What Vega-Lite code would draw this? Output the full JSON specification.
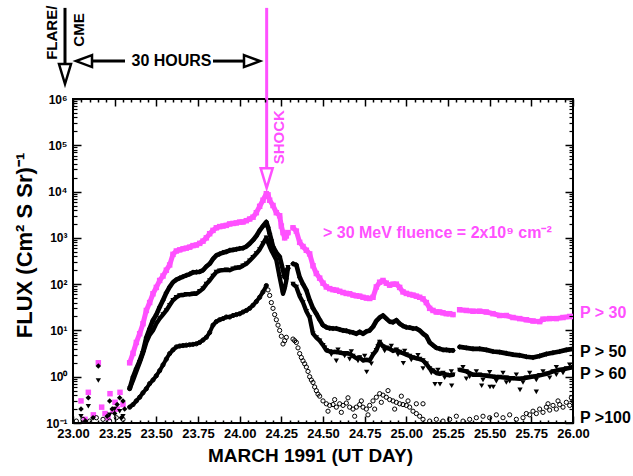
{
"$schema":"https://vega.github.io/schema/vega-lite/v6.json",
"width":500,"height":324,"autosize":"none",
"padding":{"left":73,"top":99,"right":60,"bottom":53},
"background":"white",
"config":{"view":{"stroke":"#000","strokeWidth":2},"font":"Liberation Sans",
"axis":{"grid":false,"domain":false,"zindex":1,"labelFont":"Liberation Sans","labelFontWeight":"bold","labelColor":"#000","titleFont":"Liberation Sans","titleFontWeight":"bold","titleColor":"#000"}},
"datasets":{
"pts":[
{"s":"a","d":23.048,"f":0.3,"g":0},{"s":"a","d":23.072,"f":0.12,"g":0},{"s":"a","d":23.092,"f":0.46,"g":0},{"s":"a","d":23.122,"f":0.15,"g":0},{"s":"a","d":23.152,"f":2.0,"g":0},{"s":"a","d":23.172,"f":0.22,"g":0},{"s":"a","d":23.192,"f":0.16,"g":0},{"s":"a","d":23.222,"f":0.43,"g":0},{"s":"a","d":23.252,"f":0.28,"g":0},{"s":"a","d":23.282,"f":0.46,"g":0},{"s":"a","d":23.265,"f":0.2,"g":0},{"s":"a","d":23.3,"f":0.25,"g":0},{"s":"a","d":23.24,"f":0.18,"g":0},{"s":"a","d":23.21,"f":0.13,"g":0},
{"s":"a","d":23.34,"f":2.0,"g":1},{"s":"a","d":23.36,"f":3.2,"g":1},{"s":"a","d":23.38,"f":5.5,"g":1},{"s":"a","d":23.4,"f":8.5,"g":1},{"s":"a","d":23.42,"f":14,"g":1},{"s":"a","d":23.44,"f":27,"g":1},{"s":"a","d":23.46,"f":40,"g":1},{"s":"a","d":23.48,"f":62,"g":1},{"s":"a","d":23.5,"f":85,"g":1},{"s":"a","d":23.52,"f":120,"g":1},{"s":"a","d":23.54,"f":150,"g":1},{"s":"a","d":23.56,"f":200,"g":1},{"s":"a","d":23.58,"f":260,"g":1},{"s":"a","d":23.6,"f":440,"g":1},{"s":"a","d":23.62,"f":520,"g":1},{"s":"a","d":23.64,"f":550,"g":1},{"s":"a","d":23.66,"f":580,"g":1},{"s":"a","d":23.68,"f":600,"g":1},{"s":"a","d":23.7,"f":630,"g":1},{"s":"a","d":23.72,"f":680,"g":1},{"s":"a","d":23.74,"f":700,"g":1},{"s":"a","d":23.76,"f":760,"g":1},{"s":"a","d":23.78,"f":850,"g":1},{"s":"a","d":23.8,"f":1000,"g":1},{"s":"a","d":23.82,"f":1230,"g":1},{"s":"a","d":23.84,"f":1450,"g":1},{"s":"a","d":23.86,"f":1650,"g":1},{"s":"a","d":23.88,"f":1750,"g":1},{"s":"a","d":23.9,"f":1800,"g":1},{"s":"a","d":23.92,"f":1860,"g":1},{"s":"a","d":23.94,"f":2000,"g":1},{"s":"a","d":23.96,"f":2050,"g":1},{"s":"a","d":23.98,"f":2100,"g":1},{"s":"a","d":24.0,"f":2190,"g":1},{"s":"a","d":24.02,"f":2200,"g":1},{"s":"a","d":24.04,"f":2350,"g":1},{"s":"a","d":24.06,"f":2550,"g":1},{"s":"a","d":24.08,"f":2800,"g":1},{"s":"a","d":24.1,"f":3500,"g":1},{"s":"a","d":24.12,"f":4800,"g":1},{"s":"a","d":24.14,"f":6500,"g":1},{"s":"a","d":24.16,"f":9000,"g":1},{"s":"a","d":24.17,"f":8500,"g":1},{"s":"a","d":24.18,"f":6500,"g":1},{"s":"a","d":24.2,"f":5000,"g":1},{"s":"a","d":24.22,"f":3500,"g":1},{"s":"a","d":24.24,"f":3000,"g":1},{"s":"a","d":24.25,"f":1800,"g":1},{"s":"a","d":24.26,"f":1300,"g":1},{"s":"a","d":24.27,"f":1000,"g":1},{"s":"a","d":24.28,"f":1100,"g":1},{"s":"a","d":24.29,"f":1300,"g":1},
{"s":"a","d":24.32,"f":1650,"g":2},{"s":"a","d":24.34,"f":1400,"g":2},{"s":"a","d":24.36,"f":800,"g":2},{"s":"a","d":24.38,"f":650,"g":2},{"s":"a","d":24.4,"f":540,"g":2},{"s":"a","d":24.42,"f":450,"g":2},{"s":"a","d":24.44,"f":250,"g":2},{"s":"a","d":24.46,"f":170,"g":2},{"s":"a","d":24.48,"f":135,"g":2},{"s":"a","d":24.5,"f":105,"g":2},{"s":"a","d":24.52,"f":87,"g":2},{"s":"a","d":24.54,"f":80,"g":2},{"s":"a","d":24.56,"f":76,"g":2},{"s":"a","d":24.58,"f":74,"g":2},{"s":"a","d":24.6,"f":70,"g":2},{"s":"a","d":24.62,"f":66,"g":2},{"s":"a","d":24.64,"f":63,"g":2},{"s":"a","d":24.66,"f":62,"g":2},{"s":"a","d":24.68,"f":58,"g":2},{"s":"a","d":24.7,"f":56,"g":2},{"s":"a","d":24.72,"f":55,"g":2},{"s":"a","d":24.74,"f":52,"g":2},{"s":"a","d":24.76,"f":50,"g":2},{"s":"a","d":24.78,"f":49,"g":2},{"s":"a","d":24.8,"f":52,"g":2},{"s":"a","d":24.82,"f":87,"g":2},{"s":"a","d":24.84,"f":110,"g":2},{"s":"a","d":24.86,"f":120,"g":2},{"s":"a","d":24.88,"f":105,"g":2},{"s":"a","d":24.9,"f":95,"g":2},{"s":"a","d":24.92,"f":100,"g":2},{"s":"a","d":24.94,"f":100,"g":2},{"s":"a","d":24.96,"f":85,"g":2},{"s":"a","d":24.98,"f":68,"g":2},{"s":"a","d":25.0,"f":63,"g":2},{"s":"a","d":25.02,"f":60,"g":2},{"s":"a","d":25.04,"f":58,"g":2},{"s":"a","d":25.06,"f":55,"g":2},{"s":"a","d":25.08,"f":52,"g":2},{"s":"a","d":25.1,"f":48,"g":2},{"s":"a","d":25.12,"f":40,"g":2},{"s":"a","d":25.14,"f":30,"g":2},{"s":"a","d":25.16,"f":27,"g":2},{"s":"a","d":25.18,"f":25,"g":2},{"s":"a","d":25.2,"f":25,"g":2},{"s":"a","d":25.22,"f":24,"g":2},{"s":"a","d":25.24,"f":23,"g":2},{"s":"a","d":25.26,"f":23,"g":2},{"s":"a","d":25.28,"f":22,"g":2},
{"s":"a","d":25.32,"f":28,"g":3},{"s":"a","d":25.36,"f":27,"g":3},{"s":"a","d":25.4,"f":26,"g":3},{"s":"a","d":25.44,"f":26,"g":3},{"s":"a","d":25.48,"f":25,"g":3},{"s":"a","d":25.52,"f":23,"g":3},{"s":"a","d":25.56,"f":21,"g":3},{"s":"a","d":25.6,"f":21,"g":3},{"s":"a","d":25.64,"f":19,"g":3},{"s":"a","d":25.68,"f":18,"g":3},{"s":"a","d":25.72,"f":17,"g":3},{"s":"a","d":25.76,"f":16,"g":3},{"s":"a","d":25.8,"f":15.5,"g":3},{"s":"a","d":25.82,"f":17.5,"g":3},{"s":"a","d":25.86,"f":18,"g":3},{"s":"a","d":25.9,"f":18,"g":3},{"s":"a","d":25.94,"f":19,"g":3},{"s":"a","d":25.98,"f":20,"g":3},{"s":"a","d":26.0,"f":20,"g":3},
{"s":"b","d":23.048,"f":0.2,"g":0},{"s":"b","d":23.092,"f":0.35,"g":0},{"s":"b","d":23.152,"f":1.7,"g":0},{"s":"b","d":23.12,"f":0.13,"g":0},{"s":"b","d":23.22,"f":0.3,"g":0},{"s":"b","d":23.235,"f":0.2,"g":0},{"s":"b","d":23.25,"f":0.16,"g":0},{"s":"b","d":23.265,"f":0.25,"g":0},{"s":"b","d":23.28,"f":0.35,"g":0},{"s":"b","d":23.3,"f":0.3,"g":0},{"s":"b","d":23.29,"f":0.13,"g":0},{"s":"b","d":23.31,"f":0.2,"g":0},{"s":"b","d":23.205,"f":0.14,"g":0},{"s":"b","d":23.075,"f":0.11,"g":0},
{"s":"b","d":23.34,"f":0.55,"g":1},{"s":"b","d":23.36,"f":0.98,"g":1},{"s":"b","d":23.38,"f":1.5,"g":1},{"s":"b","d":23.4,"f":2.2,"g":1},{"s":"b","d":23.42,"f":3.5,"g":1},{"s":"b","d":23.44,"f":7,"g":1},{"s":"b","d":23.46,"f":11,"g":1},{"s":"b","d":23.48,"f":16.6,"g":1},{"s":"b","d":23.5,"f":22,"g":1},{"s":"b","d":23.52,"f":32,"g":1},{"s":"b","d":23.54,"f":45,"g":1},{"s":"b","d":23.56,"f":65,"g":1},{"s":"b","d":23.58,"f":87,"g":1},{"s":"b","d":23.6,"f":110,"g":1},{"s":"b","d":23.62,"f":125,"g":1},{"s":"b","d":23.64,"f":135,"g":1},{"s":"b","d":23.66,"f":145,"g":1},{"s":"b","d":23.68,"f":155,"g":1},{"s":"b","d":23.7,"f":165,"g":1},{"s":"b","d":23.72,"f":180,"g":1},{"s":"b","d":23.74,"f":182,"g":1},{"s":"b","d":23.76,"f":185,"g":1},{"s":"b","d":23.78,"f":200,"g":1},{"s":"b","d":23.8,"f":240,"g":1},{"s":"b","d":23.82,"f":275,"g":1},{"s":"b","d":23.84,"f":350,"g":1},{"s":"b","d":23.86,"f":417,"g":1},{"s":"b","d":23.88,"f":450,"g":1},{"s":"b","d":23.9,"f":480,"g":1},{"s":"b","d":23.92,"f":500,"g":1},{"s":"b","d":23.94,"f":537,"g":1},{"s":"b","d":23.96,"f":550,"g":1},{"s":"b","d":23.98,"f":570,"g":1},{"s":"b","d":24.0,"f":589,"g":1},{"s":"b","d":24.02,"f":600,"g":1},{"s":"b","d":24.04,"f":650,"g":1},{"s":"b","d":24.06,"f":750,"g":1},{"s":"b","d":24.08,"f":890,"g":1},{"s":"b","d":24.1,"f":1100,"g":1},{"s":"b","d":24.12,"f":1445,"g":1},{"s":"b","d":24.14,"f":1800,"g":1},{"s":"b","d":24.16,"f":2200,"g":1},{"s":"b","d":24.17,"f":1700,"g":1},{"s":"b","d":24.18,"f":1230,"g":1},{"s":"b","d":24.19,"f":900,"g":1},{"s":"b","d":24.2,"f":650,"g":1},{"s":"b","d":24.22,"f":480,"g":1},{"s":"b","d":24.24,"f":390,"g":1},{"s":"b","d":24.26,"f":200,"g":1},{"s":"b","d":24.27,"f":141,"g":1},{"s":"b","d":24.28,"f":190,"g":1},{"s":"b","d":24.29,"f":219,"g":1},
{"s":"b","d":24.32,"f":275,"g":2},{"s":"b","d":24.34,"f":260,"g":2},{"s":"b","d":24.36,"f":141,"g":2},{"s":"b","d":24.38,"f":100,"g":2},{"s":"b","d":24.4,"f":74,"g":2},{"s":"b","d":24.42,"f":45,"g":2},{"s":"b","d":24.44,"f":30,"g":2},{"s":"b","d":24.46,"f":23,"g":2},{"s":"b","d":24.48,"f":17,"g":2},{"s":"b","d":24.5,"f":13,"g":2},{"s":"b","d":24.52,"f":11.7,"g":2},{"s":"b","d":24.54,"f":11.2,"g":2},{"s":"b","d":24.56,"f":11,"g":2},{"s":"b","d":24.58,"f":11,"g":2},{"s":"b","d":24.6,"f":10.5,"g":2},{"s":"b","d":24.62,"f":10,"g":2},{"s":"b","d":24.64,"f":9.8,"g":2},{"s":"b","d":24.66,"f":9.3,"g":2},{"s":"b","d":24.68,"f":9,"g":2},{"s":"b","d":24.7,"f":8.5,"g":2},{"s":"b","d":24.72,"f":9.3,"g":2},{"s":"b","d":24.74,"f":8.5,"g":2},{"s":"b","d":24.76,"f":9.5,"g":2},{"s":"b","d":24.78,"f":10,"g":2},{"s":"b","d":24.8,"f":12,"g":2},{"s":"b","d":24.82,"f":16,"g":2},{"s":"b","d":24.84,"f":19,"g":2},{"s":"b","d":24.86,"f":21,"g":2},{"s":"b","d":24.88,"f":18,"g":2},{"s":"b","d":24.9,"f":15.5,"g":2},{"s":"b","d":24.92,"f":15,"g":2},{"s":"b","d":24.94,"f":16.6,"g":2},{"s":"b","d":24.96,"f":14,"g":2},{"s":"b","d":24.98,"f":12.5,"g":2},{"s":"b","d":25.0,"f":11.7,"g":2},{"s":"b","d":25.02,"f":11.5,"g":2},{"s":"b","d":25.04,"f":11,"g":2},{"s":"b","d":25.06,"f":11,"g":2},{"s":"b","d":25.08,"f":10,"g":2},{"s":"b","d":25.1,"f":8.5,"g":2},{"s":"b","d":25.12,"f":7.5,"g":2},{"s":"b","d":25.14,"f":5.5,"g":2},{"s":"b","d":25.16,"f":4.8,"g":2},{"s":"b","d":25.18,"f":4.2,"g":2},{"s":"b","d":25.2,"f":4,"g":2},{"s":"b","d":25.22,"f":3.8,"g":2},{"s":"b","d":25.24,"f":3.8,"g":2},{"s":"b","d":25.26,"f":3.7,"g":2},{"s":"b","d":25.28,"f":3.7,"g":2},
{"s":"b","d":25.32,"f":4.4,"g":3},{"s":"b","d":25.36,"f":4.2,"g":3},{"s":"b","d":25.4,"f":4.0,"g":3},{"s":"b","d":25.44,"f":4.0,"g":3},{"s":"b","d":25.48,"f":3.8,"g":3},{"s":"b","d":25.52,"f":3.5,"g":3},{"s":"b","d":25.56,"f":3.4,"g":3},{"s":"b","d":25.6,"f":3.2,"g":3},{"s":"b","d":25.64,"f":3.0,"g":3},{"s":"b","d":25.68,"f":2.9,"g":3},{"s":"b","d":25.72,"f":2.7,"g":3},{"s":"b","d":25.76,"f":2.6,"g":3},{"s":"b","d":25.8,"f":2.8,"g":3},{"s":"b","d":25.84,"f":3.1,"g":3},{"s":"b","d":25.88,"f":3.3,"g":3},{"s":"b","d":25.92,"f":3.5,"g":3},{"s":"b","d":25.96,"f":3.8,"g":3},{"s":"b","d":26.0,"f":4.0,"g":3},
{"s":"c","d":23.152,"f":0.83,"g":0},{"s":"c","d":23.092,"f":0.23,"g":0},{"s":"c","d":23.048,"f":0.14,"g":0},{"s":"c","d":23.22,"f":0.15,"g":0},{"s":"c","d":23.25,"f":0.2,"g":0},{"s":"c","d":23.28,"f":0.18,"g":0},{"s":"c","d":23.3,"f":0.14,"g":0},
{"s":"c","d":24.762,"f":1.26,"g":0},{"s":"c","d":24.982,"f":1.95,"g":0},{"s":"c","d":25.172,"f":0.69,"g":0},{"s":"c","d":25.202,"f":0.69,"g":0},{"s":"c","d":25.272,"f":0.64,"g":0},{"s":"c","d":25.452,"f":0.64,"g":0},{"s":"c","d":25.502,"f":0.6,"g":0},{"s":"c","d":25.522,"f":0.6,"g":0},{"s":"c","d":25.682,"f":0.52,"g":0},{"s":"c","d":25.78,"f":0.47,"g":0},{"s":"c","d":24.58,"f":2.2,"g":0},{"s":"c","d":24.66,"f":2.4,"g":0},{"s":"c","d":25.1,"f":1.5,"g":0},{"s":"c","d":25.36,"f":0.9,"g":0},{"s":"c","d":25.6,"f":0.75,"g":0},{"s":"c","d":25.9,"f":1.1,"g":0},
{"s":"c","d":25.34,"f":1.6,"g":0},{"s":"c","d":25.38,"f":1.0,"g":0},{"s":"c","d":25.42,"f":1.3,"g":0},{"s":"c","d":25.46,"f":0.85,"g":0},{"s":"c","d":25.5,"f":1.25,"g":0},{"s":"c","d":25.54,"f":0.8,"g":0},{"s":"c","d":25.58,"f":1.2,"g":0},{"s":"c","d":25.62,"f":0.8,"g":0},{"s":"c","d":25.66,"f":1.1,"g":0},{"s":"c","d":25.7,"f":0.75,"g":0},{"s":"c","d":25.74,"f":1.2,"g":0},{"s":"c","d":25.78,"f":0.85,"g":0},{"s":"c","d":25.82,"f":1.3,"g":0},{"s":"c","d":25.86,"f":0.95,"g":0},{"s":"c","d":25.9,"f":1.6,"g":0},{"s":"c","d":25.94,"f":1.2,"g":0},{"s":"c","d":25.98,"f":1.8,"g":0},
{"s":"c","d":24.51,"f":4.2,"g":0},{"s":"c","d":24.55,"f":3.0,"g":0},{"s":"c","d":24.59,"f":3.8,"g":0},{"s":"c","d":24.63,"f":2.8,"g":0},{"s":"c","d":24.67,"f":3.5,"g":0},{"s":"c","d":24.71,"f":2.2,"g":0},{"s":"c","d":24.75,"f":2.8,"g":0},{"s":"c","d":24.79,"f":1.9,"g":0},{"s":"c","d":24.83,"f":4.5,"g":0},{"s":"c","d":24.87,"f":3.6,"g":0},{"s":"c","d":24.91,"f":4.6,"g":0},{"s":"c","d":24.95,"f":3.0,"g":0},{"s":"c","d":24.99,"f":3.6,"g":0},{"s":"c","d":25.03,"f":2.3,"g":0},{"s":"c","d":25.07,"f":2.9,"g":0},{"s":"c","d":25.11,"f":1.9,"g":0},{"s":"c","d":25.15,"f":1.2,"g":0},{"s":"c","d":25.19,"f":1.4,"g":0},{"s":"c","d":25.23,"f":0.95,"g":0},{"s":"c","d":25.27,"f":1.3,"g":0},
{"s":"c","d":23.34,"f":0.55,"g":1},{"s":"c","d":23.36,"f":0.83,"g":1},{"s":"c","d":23.38,"f":1.3,"g":1},{"s":"c","d":23.4,"f":2.0,"g":1},{"s":"c","d":23.42,"f":3.2,"g":1},{"s":"c","d":23.44,"f":5.5,"g":1},{"s":"c","d":23.46,"f":8,"g":1},{"s":"c","d":23.48,"f":10,"g":1},{"s":"c","d":23.5,"f":14,"g":1},{"s":"c","d":23.52,"f":18,"g":1},{"s":"c","d":23.54,"f":22,"g":1},{"s":"c","d":23.56,"f":27,"g":1},{"s":"c","d":23.58,"f":35,"g":1},{"s":"c","d":23.6,"f":44.7,"g":1},{"s":"c","d":23.62,"f":52,"g":1},{"s":"c","d":23.64,"f":57,"g":1},{"s":"c","d":23.66,"f":58,"g":1},{"s":"c","d":23.68,"f":60,"g":1},{"s":"c","d":23.7,"f":60,"g":1},{"s":"c","d":23.72,"f":62,"g":1},{"s":"c","d":23.74,"f":62,"g":1},{"s":"c","d":23.76,"f":70,"g":1},{"s":"c","d":23.78,"f":80,"g":1},{"s":"c","d":23.8,"f":100,"g":1},{"s":"c","d":23.82,"f":120,"g":1},{"s":"c","d":23.84,"f":150,"g":1},{"s":"c","d":23.86,"f":182,"g":1},{"s":"c","d":23.88,"f":195,"g":1},{"s":"c","d":23.9,"f":200,"g":1},{"s":"c","d":23.92,"f":204,"g":1},{"s":"c","d":23.94,"f":200,"g":1},{"s":"c","d":23.96,"f":215,"g":1},{"s":"c","d":23.98,"f":225,"g":1},{"s":"c","d":24.0,"f":229,"g":1},{"s":"c","d":24.02,"f":250,"g":1},{"s":"c","d":24.04,"f":275,"g":1},{"s":"c","d":24.06,"f":320,"g":1},{"s":"c","d":24.08,"f":380,"g":1},{"s":"c","d":24.1,"f":457,"g":1},{"s":"c","d":24.12,"f":560,"g":1},{"s":"c","d":24.14,"f":750,"g":1},{"s":"c","d":24.16,"f":1000,"g":1},{"s":"c","d":24.17,"f":800,"g":1},{"s":"c","d":24.18,"f":650,"g":1},{"s":"c","d":24.19,"f":537,"g":1},{"s":"c","d":24.2,"f":460,"g":1},{"s":"c","d":24.22,"f":331,"g":1},{"s":"c","d":24.24,"f":141,"g":1},{"s":"c","d":24.26,"f":62,"g":1},{"s":"c","d":24.27,"f":80,"g":1},{"s":"c","d":24.28,"f":120,"g":1},{"s":"c","d":24.29,"f":230,"g":1},
{"s":"c","d":24.32,"f":100,"g":2},{"s":"c","d":24.34,"f":87,"g":2},{"s":"c","d":24.36,"f":55,"g":2},{"s":"c","d":24.38,"f":40,"g":2},{"s":"c","d":24.4,"f":26,"g":2},{"s":"c","d":24.42,"f":19,"g":2},{"s":"c","d":24.44,"f":8.5,"g":2},{"s":"c","d":24.46,"f":7,"g":2},{"s":"c","d":24.48,"f":6,"g":2},{"s":"c","d":24.5,"f":4.8,"g":2},{"s":"c","d":24.52,"f":3.7,"g":2},{"s":"c","d":24.54,"f":3.5,"g":2},{"s":"c","d":24.56,"f":3.4,"g":2},{"s":"c","d":24.58,"f":3.4,"g":2},{"s":"c","d":24.6,"f":3.3,"g":2},{"s":"c","d":24.62,"f":3.2,"g":2},{"s":"c","d":24.64,"f":3.2,"g":2},{"s":"c","d":24.66,"f":3.1,"g":2},{"s":"c","d":24.68,"f":2.8,"g":2},{"s":"c","d":24.7,"f":2.5,"g":2},{"s":"c","d":24.72,"f":2.6,"g":2},{"s":"c","d":24.74,"f":2.24,"g":2},{"s":"c","d":24.76,"f":2.3,"g":2},{"s":"c","d":24.78,"f":2.24,"g":2},{"s":"c","d":24.8,"f":3.0,"g":2},{"s":"c","d":24.82,"f":3.7,"g":2},{"s":"c","d":24.84,"f":5.6,"g":2},{"s":"c","d":24.86,"f":4.5,"g":2},{"s":"c","d":24.88,"f":4.2,"g":2},{"s":"c","d":24.9,"f":4.0,"g":2},{"s":"c","d":24.92,"f":3.6,"g":2},{"s":"c","d":24.94,"f":3.8,"g":2},{"s":"c","d":24.96,"f":3.4,"g":2},{"s":"c","d":24.98,"f":3.2,"g":2},{"s":"c","d":25.0,"f":3.0,"g":2},{"s":"c","d":25.02,"f":2.8,"g":2},{"s":"c","d":25.04,"f":2.6,"g":2},{"s":"c","d":25.06,"f":2.5,"g":2},{"s":"c","d":25.08,"f":2.4,"g":2},{"s":"c","d":25.1,"f":2.24,"g":2},{"s":"c","d":25.12,"f":1.9,"g":2},{"s":"c","d":25.14,"f":1.5,"g":2},{"s":"c","d":25.16,"f":1.35,"g":2},{"s":"c","d":25.18,"f":1.2,"g":2},{"s":"c","d":25.2,"f":1.15,"g":2},{"s":"c","d":25.22,"f":1.2,"g":2},{"s":"c","d":25.24,"f":1.1,"g":2},{"s":"c","d":25.26,"f":1.07,"g":2},{"s":"c","d":25.28,"f":1.1,"g":2},
{"s":"c","d":25.32,"f":1.4,"g":3},{"s":"c","d":25.36,"f":1.3,"g":3},{"s":"c","d":25.4,"f":1.1,"g":3},{"s":"c","d":25.44,"f":1.1,"g":3},{"s":"c","d":25.48,"f":1.05,"g":3},{"s":"c","d":25.52,"f":1.0,"g":3},{"s":"c","d":25.56,"f":0.98,"g":3},{"s":"c","d":25.6,"f":0.95,"g":3},{"s":"c","d":25.64,"f":0.92,"g":3},{"s":"c","d":25.68,"f":0.9,"g":3},{"s":"c","d":25.72,"f":0.95,"g":3},{"s":"c","d":25.76,"f":1.0,"g":3},{"s":"c","d":25.8,"f":1.07,"g":3},{"s":"c","d":25.84,"f":1.15,"g":3},{"s":"c","d":25.88,"f":1.3,"g":3},{"s":"c","d":25.92,"f":1.4,"g":3},{"s":"c","d":25.96,"f":1.5,"g":3},{"s":"c","d":26.0,"f":1.6,"g":3},
{"s":"e","d":23.02,"f":0.11,"g":0},{"s":"e","d":23.06,"f":0.12,"g":0},{"s":"e","d":23.1,"f":0.11,"g":0},{"s":"e","d":23.14,"f":0.13,"g":0},{"s":"e","d":23.18,"f":0.12,"g":0},{"s":"e","d":23.22,"f":0.11,"g":0},{"s":"e","d":23.26,"f":0.13,"g":0},{"s":"e","d":23.3,"f":0.12,"g":0},
{"s":"e","d":23.34,"f":0.22,"g":1},{"s":"e","d":23.36,"f":0.25,"g":1},{"s":"e","d":23.38,"f":0.3,"g":1},{"s":"e","d":23.4,"f":0.36,"g":1},{"s":"e","d":23.42,"f":0.45,"g":1},{"s":"e","d":23.44,"f":0.55,"g":1},{"s":"e","d":23.46,"f":0.71,"g":1},{"s":"e","d":23.48,"f":0.85,"g":1},{"s":"e","d":23.5,"f":1.05,"g":1},{"s":"e","d":23.52,"f":1.35,"g":1},{"s":"e","d":23.54,"f":1.8,"g":1},{"s":"e","d":23.56,"f":2.4,"g":1},{"s":"e","d":23.58,"f":3.16,"g":1},{"s":"e","d":23.6,"f":3.8,"g":1},{"s":"e","d":23.62,"f":4.4,"g":1},{"s":"e","d":23.64,"f":4.6,"g":1},{"s":"e","d":23.66,"f":4.7,"g":1},{"s":"e","d":23.68,"f":4.8,"g":1},{"s":"e","d":23.7,"f":4.9,"g":1},{"s":"e","d":23.72,"f":5.0,"g":1},{"s":"e","d":23.74,"f":5.13,"g":1},{"s":"e","d":23.76,"f":5.5,"g":1},{"s":"e","d":23.78,"f":6.2,"g":1},{"s":"e","d":23.8,"f":7.1,"g":1},{"s":"e","d":23.82,"f":9,"g":1},{"s":"e","d":23.84,"f":13,"g":1},{"s":"e","d":23.86,"f":15.5,"g":1},{"s":"e","d":23.88,"f":17,"g":1},{"s":"e","d":23.9,"f":18,"g":1},{"s":"e","d":23.92,"f":19.5,"g":1},{"s":"e","d":23.94,"f":19.5,"g":1},{"s":"e","d":23.96,"f":21,"g":1},{"s":"e","d":23.98,"f":22,"g":1},{"s":"e","d":24.0,"f":22.9,"g":1},{"s":"e","d":24.02,"f":25,"g":1},{"s":"e","d":24.04,"f":27,"g":1},{"s":"e","d":24.06,"f":30,"g":1},{"s":"e","d":24.08,"f":35,"g":1},{"s":"e","d":24.1,"f":42,"g":1},{"s":"e","d":24.12,"f":52,"g":1},{"s":"e","d":24.14,"f":68,"g":1},{"s":"e","d":24.16,"f":93,"g":1},
{"s":"e","d":24.17,"f":75,"g":0},{"s":"e","d":24.18,"f":57,"g":0},{"s":"e","d":24.19,"f":40,"g":0},{"s":"e","d":24.2,"f":30,"g":0},{"s":"e","d":24.21,"f":22,"g":0},{"s":"e","d":24.22,"f":17,"g":0},{"s":"e","d":24.23,"f":13,"g":0},{"s":"e","d":24.24,"f":10,"g":0},{"s":"e","d":24.25,"f":7.5,"g":0},{"s":"e","d":24.26,"f":5.1,"g":0},{"s":"e","d":24.27,"f":6,"g":0},{"s":"e","d":24.28,"f":7.1,"g":0},{"s":"e","d":24.32,"f":6.5,"g":0},{"s":"e","d":24.33,"f":6.0,"g":0},{"s":"e","d":24.34,"f":5.5,"g":0},{"s":"e","d":24.35,"f":4.2,"g":0},{"s":"e","d":24.36,"f":3.16,"g":0},{"s":"e","d":24.37,"f":2.6,"g":0},{"s":"e","d":24.38,"f":2.2,"g":0},{"s":"e","d":24.39,"f":1.9,"g":0},{"s":"e","d":24.4,"f":1.62,"g":0},{"s":"e","d":24.41,"f":1.3,"g":0},{"s":"e","d":24.42,"f":1.0,"g":0},{"s":"e","d":24.43,"f":0.85,"g":0},{"s":"e","d":24.44,"f":0.75,"g":0},{"s":"e","d":24.45,"f":0.6,"g":0},{"s":"e","d":24.46,"f":0.5,"g":0},{"s":"e","d":24.47,"f":0.42,"g":0},{"s":"e","d":24.48,"f":0.38,"g":0},{"s":"e","d":24.5,"f":0.3,"g":0},
{"s":"e","d":24.52,"f":0.26,"g":0},{"s":"e","d":24.54,"f":0.24,"g":0},{"s":"e","d":24.56,"f":0.25,"g":0},{"s":"e","d":24.58,"f":0.22,"g":0},{"s":"e","d":24.6,"f":0.26,"g":0},{"s":"e","d":24.62,"f":0.24,"g":0},{"s":"e","d":24.64,"f":0.27,"g":0},{"s":"e","d":24.66,"f":0.22,"g":0},{"s":"e","d":24.68,"f":0.2,"g":0},{"s":"e","d":24.7,"f":0.22,"g":0},{"s":"e","d":24.72,"f":0.25,"g":0},{"s":"e","d":24.74,"f":0.22,"g":0},{"s":"e","d":24.76,"f":0.2,"g":0},{"s":"e","d":24.78,"f":0.24,"g":0},{"s":"e","d":24.8,"f":0.3,"g":0},{"s":"e","d":24.82,"f":0.36,"g":0},{"s":"e","d":24.84,"f":0.43,"g":0},{"s":"e","d":24.86,"f":0.4,"g":0},{"s":"e","d":24.88,"f":0.36,"g":0},{"s":"e","d":24.9,"f":0.32,"g":0},{"s":"e","d":24.92,"f":0.3,"g":0},{"s":"e","d":24.94,"f":0.28,"g":0},{"s":"e","d":24.96,"f":0.26,"g":0},{"s":"e","d":24.98,"f":0.25,"g":0},{"s":"e","d":25.0,"f":0.24,"g":0},{"s":"e","d":25.02,"f":0.22,"g":0},{"s":"e","d":25.04,"f":0.18,"g":0},{"s":"e","d":25.06,"f":0.16,"g":0},{"s":"e","d":25.08,"f":0.14,"g":0},{"s":"e","d":25.1,"f":0.12,"g":0},
{"s":"e","d":24.53,"f":0.18,"g":0},{"s":"e","d":24.57,"f":0.32,"g":0},{"s":"e","d":24.61,"f":0.17,"g":0},{"s":"e","d":24.65,"f":0.35,"g":0},{"s":"e","d":24.69,"f":0.14,"g":0},{"s":"e","d":24.73,"f":0.3,"g":0},{"s":"e","d":24.77,"f":0.15,"g":0},{"s":"e","d":24.81,"f":0.2,"g":0},{"s":"e","d":24.85,"f":0.28,"g":0},{"s":"e","d":24.89,"f":0.5,"g":0},{"s":"e","d":24.93,"f":0.2,"g":0},{"s":"e","d":24.97,"f":0.38,"g":0},{"s":"e","d":25.01,"f":0.3,"g":0},{"s":"e","d":25.06,"f":0.26,"g":0},{"s":"e","d":25.1,"f":0.26,"g":0},
{"s":"e","d":25.14,"f":0.11,"g":0},{"s":"e","d":25.18,"f":0.12,"g":0},{"s":"e","d":25.22,"f":0.11,"g":0},{"s":"e","d":25.26,"f":0.12,"g":0},{"s":"e","d":25.3,"f":0.14,"g":0},{"s":"e","d":25.34,"f":0.11,"g":0},{"s":"e","d":25.38,"f":0.12,"g":0},{"s":"e","d":25.42,"f":0.13,"g":0},{"s":"e","d":25.46,"f":0.14,"g":0},{"s":"e","d":25.5,"f":0.13,"g":0},{"s":"e","d":25.54,"f":0.15,"g":0},{"s":"e","d":25.58,"f":0.13,"g":0},{"s":"e","d":25.62,"f":0.15,"g":0},{"s":"e","d":25.66,"f":0.12,"g":0},{"s":"e","d":25.7,"f":0.13,"g":0},{"s":"e","d":25.72,"f":0.16,"g":0},{"s":"e","d":25.74,"f":0.15,"g":0},{"s":"e","d":25.76,"f":0.18,"g":0},{"s":"e","d":25.78,"f":0.16,"g":0},{"s":"e","d":25.8,"f":0.2,"g":0},{"s":"e","d":25.82,"f":0.17,"g":0},{"s":"e","d":25.84,"f":0.22,"g":0},{"s":"e","d":25.86,"f":0.19,"g":0},{"s":"e","d":25.88,"f":0.24,"g":0},{"s":"e","d":25.9,"f":0.2,"g":0},{"s":"e","d":25.92,"f":0.25,"g":0},{"s":"e","d":25.94,"f":0.22,"g":0},{"s":"e","d":25.96,"f":0.28,"g":0},{"s":"e","d":25.98,"f":0.24,"g":0},{"s":"e","d":26.0,"f":0.3,"g":0},{"s":"e","d":25.99,"f":0.35,"g":0},{"s":"e","d":25.91,"f":0.3,"g":0},{"s":"e","d":25.85,"f":0.26,"g":0}
],
"rules":[
{"x1":24.162,"y1":93000000,"x2":24.162,"y2":32000,"c":"#ff50ff"},
{"x1":22.952,"y1":93000000,"x2":22.952,"y2":5400000,"c":"#000000"},
{"x1":23.114,"y1":6600000,"x2":23.312,"y2":6600000,"c":"#000000"},
{"x1":23.84,"y1":6600000,"x2":24.026,"y2":6600000,"c":"#000000"}
],
"down":[
{"x":24.162,"y":19500,"c":"#ff50ff"},
{"x":22.952,"y":3470000,"c":"#000000"}
],
"right":[{"x":24.074,"y":6600000}],
"left":[{"x":23.066,"y":6600000}],
"tc":[
{"x":22.874,"y":27000000,"t":"FLARE/","c":"#000000","a":270,"z":15},
{"x":23.036,"y":31000000,"t":"CME","c":"#000000","a":270,"z":15},
{"x":24.236,"y":150000,"t":"SHOCK","c":"#ff50ff","a":270,"z":15},
{"x":23.591,"y":6600000,"t":"30 HOURS","c":"#000000","a":0,"z":16}
],
"tl":[
{"x":24.5,"y":1260,"t":"> 30 MeV  fluence = 2x10⁹ cm⁻²","c":"#ff50ff","z":16},
{"x":26.042,"y":23.3,"t":"P > 30","c":"#ff50ff","z":16},
{"x":26.042,"y":3.34,"t":"P > 50","c":"#000000","z":16},
{"x":26.042,"y":1.17,"t":"P > 60","c":"#000000","z":16},
{"x":26.042,"y":0.131,"t":"P >100","c":"#000000","z":16}
]
},
"resolve":{"axis":{"x":"independent","y":"independent"}},
"layer":[
{"data":{"name":"pts"},"transform":[{"filter":"datum.g > 0"}],
"mark":{"type":"line","clip":true,"strokeJoin":"round","strokeCap":"round"},
"encoding":{
"x":{"field":"d","type":"quantitative","scale":{"domain":[23,26],"nice":false,"zero":false},
"axis":{"orient":"bottom","values":[23,23.25,23.5,23.75,24,24.25,24.5,24.75,25,25.25,25.5,25.75,26],"format":".2f","ticks":true,"tickColor":"black","tickWidth":1.5,"tickSize":-7,"labelPadding":11,"labelFontSize":13,"labelFlush":false,"labelOverlap":false,"title":"MARCH 1991 (UT DAY)","titleFontSize":19,"titlePadding":6,"titleX":237,"zindex":1}},
"y":{"field":"f","type":"quantitative","scale":{"type":"log","domain":[0.1,1000000],"nice":false},
"axis":{"orient":"left","values":[0.1,1,10,100,1000,10000,100000,1000000],"ticks":true,"tickColor":"black","tickWidth":1.5,"tickSize":-8,"labelPadding":14,"labelFontSize":12,"labelExpr":"['10⁻¹','10⁰','10¹','10²','10³','10⁴','10⁵','10⁶'][round(log(datum.value)/LN10)+1]","title":"FLUX (Cm² S Sr)⁻¹","titleFontSize":22,"titleAngle":270,"titleAlign":"center","titleBaseline":"middle","titleX":-49,"titleY":146,"zindex":1}},
"color":{"field":"s","type":"nominal","scale":{"domain":["a","b","c","e"],"range":["#ff50ff","#000000","#000000","#000000"]},"legend":null},
"strokeWidth":{"field":"s","type":"nominal","scale":{"domain":["a","b","c","e"],"range":[5,4,3,2.5]},"legend":null},
"detail":{"field":"g","type":"nominal"},
"order":{"field":"d","type":"quantitative"}}},
{"data":{"name":"pts"},"transform":[{"filter":"datum.s == 'a'"}],
"mark":{"type":"point","shape":"square","filled":true,"color":"#ff50ff","size":30,"opacity":1,"clip":true},
"encoding":{"x":{"field":"d","type":"quantitative","axis":{"orient":"top","values":[23,23.25,23.5,23.75,24,24.25,24.5,24.75,25,25.25,25.5,25.75,26],"tickColor":"black","tickWidth":1.5,"tickSize":-7,"labels":false,"title":null,"zindex":1}},
"y":{"field":"f","type":"quantitative","axis":{"orient":"right","values":[0.1,1,10,100,1000,10000,100000,1000000],"tickColor":"black","tickWidth":1.5,"tickSize":-8,"labels":false,"title":null,"zindex":1}}}},
{"data":{"name":"pts"},"transform":[{"filter":"datum.s == 'b'"}],
"mark":{"type":"point","shape":"diamond","filled":true,"color":"#000000","size":30,"opacity":1,"clip":true},
"encoding":{"x":{"field":"d","type":"quantitative","axis":{"orient":"bottom","values":[23.05,23.1,23.15,23.2,23.3,23.35,23.4,23.45,23.55,23.6,23.65,23.7,23.8,23.85,23.9,23.95,24.05,24.1,24.15,24.2,24.3,24.35,24.4,24.45,24.55,24.6,24.65,24.7,24.8,24.85,24.9,24.95,25.05,25.1,25.15,25.2,25.3,25.35,25.4,25.45,25.55,25.6,25.65,25.7,25.8,25.85,25.9,25.95],"tickColor":"black","tickWidth":1.5,"tickSize":-3,"labels":false,"title":null,"zindex":1}},
"y":{"field":"f","type":"quantitative","axis":{"orient":"left","values":[0.2,0.3,0.4,0.5,0.6,0.7,0.8,0.9,2,3,4,5,6,7,8,9,20,30,40,50,60,70,80,90,200,300,400,500,600,700,800,900,2000,3000,4000,5000,6000,7000,8000,9000,20000,30000,40000,50000,60000,70000,80000,90000,200000,300000,400000,500000,600000,700000,800000,900000],"tickColor":"black","tickWidth":1.2,"tickSize":-4,"labels":false,"title":null,"zindex":1}}}},
{"data":{"name":"pts"},"transform":[{"filter":"datum.s == 'c'"}],
"mark":{"type":"point","shape":"triangle-down","filled":true,"color":"#000000","size":28,"opacity":1,"clip":true},
"encoding":{"x":{"field":"d","type":"quantitative","axis":{"orient":"top","values":[23.05,23.1,23.15,23.2,23.3,23.35,23.4,23.45,23.55,23.6,23.65,23.7,23.8,23.85,23.9,23.95,24.05,24.1,24.15,24.2,24.3,24.35,24.4,24.45,24.55,24.6,24.65,24.7,24.8,24.85,24.9,24.95,25.05,25.1,25.15,25.2,25.3,25.35,25.4,25.45,25.55,25.6,25.65,25.7,25.8,25.85,25.9,25.95],"tickColor":"black","tickWidth":1.5,"tickSize":-3,"labels":false,"title":null,"zindex":1}},
"y":{"field":"f","type":"quantitative","axis":{"orient":"right","values":[0.2,0.3,0.4,0.5,0.6,0.7,0.8,0.9,2,3,4,5,6,7,8,9,20,30,40,50,60,70,80,90,200,300,400,500,600,700,800,900,2000,3000,4000,5000,6000,7000,8000,9000,20000,30000,40000,50000,60000,70000,80000,90000,200000,300000,400000,500000,600000,700000,800000,900000],"tickColor":"black","tickWidth":1.2,"tickSize":-4,"labels":false,"title":null,"zindex":1}}}},
{"data":{"name":"pts"},"transform":[{"filter":"datum.s == 'e'"}],
"mark":{"type":"point","shape":"circle","filled":false,"color":"#000000","strokeWidth":1,"size":18,"opacity":1,"clip":true},
"encoding":{"x":{"field":"d","type":"quantitative","axis":{"orient":"bottom","ticks":false,"labels":false,"domain":false,"title":null}},"y":{"field":"f","type":"quantitative","axis":{"orient":"left","ticks":false,"labels":false,"domain":false,"title":null}}}},
{"data":{"name":"rules"},"mark":{"type":"rule","strokeWidth":3,"clip":false},
"encoding":{"x":{"field":"x1","type":"quantitative","axis":{"orient":"bottom","ticks":false,"labels":false,"domain":false,"title":null}},"x2":{"field":"x2"},"y":{"field":"y1","type":"quantitative","axis":{"orient":"left","ticks":false,"labels":false,"domain":false,"title":null}},"y2":{"field":"y2"},"stroke":{"field":"c","type":"nominal","scale":null}}},
{"data":{"name":"down"},"mark":{"type":"point","shape":"M-0.6,-1L0.6,-1L0,1Z","size":400,"filled":true,"fill":"white","strokeWidth":2.5,"opacity":1,"clip":false},
"encoding":{"x":{"field":"x","type":"quantitative","axis":{"orient":"bottom","ticks":false,"labels":false,"domain":false,"title":null}},"y":{"field":"y","type":"quantitative","axis":{"orient":"left","ticks":false,"labels":false,"domain":false,"title":null}},"stroke":{"field":"c","type":"nominal","scale":null}}},
{"data":{"name":"right"},"mark":{"type":"point","shape":"M-1,-0.75L1,0L-1,0.75Z","size":256,"filled":true,"fill":"white","stroke":"#000000","strokeWidth":2.5,"opacity":1,"clip":false},
"encoding":{"x":{"field":"x","type":"quantitative","axis":{"orient":"bottom","ticks":false,"labels":false,"domain":false,"title":null}},"y":{"field":"y","type":"quantitative","axis":{"orient":"left","ticks":false,"labels":false,"domain":false,"title":null}}}},
{"data":{"name":"left"},"mark":{"type":"point","shape":"M1,-0.75L-1,0L1,0.75Z","size":256,"filled":true,"fill":"white","stroke":"#000000","strokeWidth":2.5,"opacity":1,"clip":false},
"encoding":{"x":{"field":"x","type":"quantitative","axis":{"orient":"bottom","ticks":false,"labels":false,"domain":false,"title":null}},"y":{"field":"y","type":"quantitative","axis":{"orient":"left","ticks":false,"labels":false,"domain":false,"title":null}}}},
{"data":{"name":"tc"},"mark":{"type":"text","font":"Liberation Sans","fontWeight":"bold","align":"center","baseline":"middle","clip":false},
"encoding":{"x":{"field":"x","type":"quantitative","axis":{"orient":"bottom","ticks":false,"labels":false,"domain":false,"title":null}},"y":{"field":"y","type":"quantitative","axis":{"orient":"left","ticks":false,"labels":false,"domain":false,"title":null}},"text":{"field":"t"},"fill":{"field":"c","type":"nominal","scale":null},"angle":{"field":"a","type":"quantitative","scale":null},"size":{"field":"z","type":"quantitative","scale":null}}},
{"data":{"name":"tl"},"mark":{"type":"text","font":"Liberation Sans","fontWeight":"bold","align":"left","baseline":"middle","clip":false},
"encoding":{"x":{"field":"x","type":"quantitative","axis":{"orient":"bottom","ticks":false,"labels":false,"domain":false,"title":null}},"y":{"field":"y","type":"quantitative","axis":{"orient":"left","ticks":false,"labels":false,"domain":false,"title":null}},"text":{"field":"t"},"fill":{"field":"c","type":"nominal","scale":null},"size":{"field":"z","type":"quantitative","scale":null}}}
]
}
